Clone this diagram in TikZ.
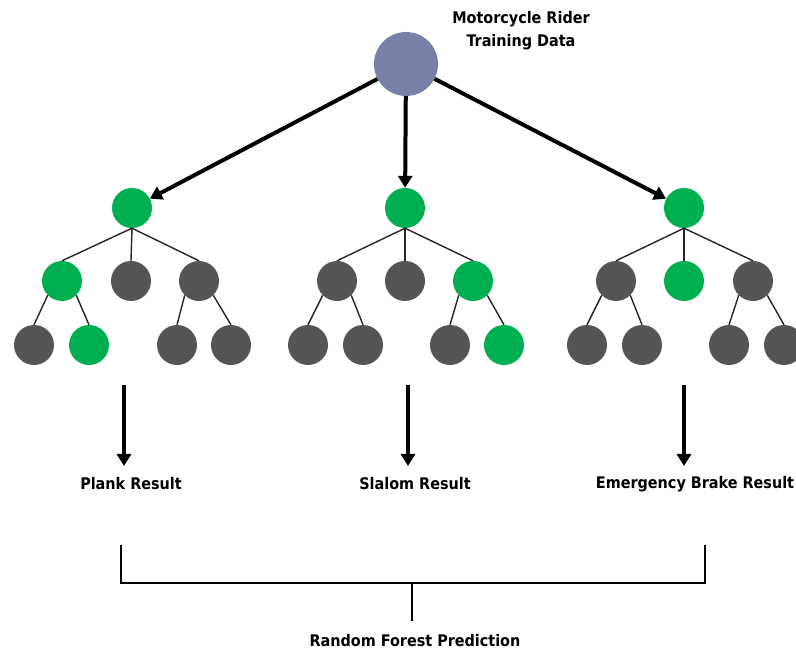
\documentclass[tikz,border=0pt]{standalone}
\usepackage{fontspec}
\setmainfont{DejaVu Sans Condensed}
\usetikzlibrary{arrows.meta}
\definecolor{rootblue}{HTML}{7880A8}
\definecolor{leafgreen}{HTML}{00B050}
\definecolor{leafgray}{HTML}{555555}
\tikzset{
  gnode/.style={circle,fill=leafgreen,minimum size=40pt,inner sep=0pt},
  dnode/.style={circle,fill=leafgray,minimum size=40pt,inner sep=0pt},
  tedge/.style={line width=1.4pt,draw=black!85},
  bigarrow/.style={line width=4pt,-{Triangle[length=12pt,width=14pt]}},
  lbl/.style={font=\bfseries\fontsize{16}{19}\selectfont,inner sep=0pt},
  bracketline/.style={line width=2.5pt}
}
\begin{document}
\begin{tikzpicture}[x=1pt,y=-1pt]
\clip (0,0) rectangle (796,652);
\fill[white] (0,0) rectangle (796,652);
% root
\node[circle,fill=rootblue,minimum size=64pt,inner sep=0pt] (root) at (406,64) {};
\node[lbl,align=center] (title) at (521,31) {Motorcycle Rider\\[4pt]Training Data};
% tree 1
\node[gnode] (a) at (132,208) {};
\node[gnode] (a1) at (62,281) {};
\node[dnode] (a2) at (131,281) {};
\node[dnode] (a3) at (199,281) {};
\node[dnode] (a11) at (34,345) {};
\node[gnode] (a12) at (89,345) {};
\node[dnode] (a31) at (177,345) {};
\node[dnode] (a32) at (231,345) {};
% tree 2
\node[gnode] (b) at (405,208) {};
\node[dnode] (b1) at (337,281) {};
\node[dnode] (b2) at (405,281) {};
\node[gnode] (b3) at (473,281) {};
\node[dnode] (b11) at (308,345) {};
\node[dnode] (b12) at (363,345) {};
\node[dnode] (b31) at (450,345) {};
\node[gnode] (b32) at (504,345) {};
% tree 3
\node[gnode] (c) at (684,208) {};
\node[dnode] (c1) at (616,281) {};
\node[gnode] (c2) at (684,281) {};
\node[dnode] (c3) at (753,281) {};
\node[dnode] (c11) at (587,345) {};
\node[dnode] (c12) at (642,345) {};
\node[dnode] (c31) at (729,345) {};
\node[dnode] (c32) at (784,345) {};
% tree edges
\foreach \t in {a,b,c}{
  \draw[tedge] (\t.south) -- (\t1.north);
  \draw[tedge] (\t.south) -- (\t2.north);
  \draw[tedge] (\t.south) -- (\t3.north);
  \draw[tedge] (\t1.south west) -- (\t11.north);
  \draw[tedge] (\t1.south east) -- (\t12.north);
  \draw[tedge] (\t3.south west) -- (\t31.north);
  \draw[tedge] (\t3.south east) -- (\t32.north);
}
% arrows from root
\draw[bigarrow] (root) -- (a);
\draw[bigarrow] (root) -- (b);
\draw[bigarrow] (root) -- (c);
% result labels
\node[lbl] (r1) at (131,484) {Plank Result};
\node[lbl] (r2) at (415,484) {Slalom Result};
\node[lbl] (r3) at (695,484) {Emergency Brake Result};
\coordinate (d1t) at (124,385); \coordinate (d1b) at (124,466);
\coordinate (d2t) at (408,385); \coordinate (d2b) at (408,466);
\coordinate (d3t) at (684,385); \coordinate (d3b) at (684,466);
\draw[bigarrow] (d1t) -- (d1b);
\draw[bigarrow] (d2t) -- (d2b);
\draw[bigarrow] (d3t) -- (d3b);
% bracket
\coordinate (bl) at (121,545); \coordinate (blc) at (121,583);
\coordinate (br) at (705,545); \coordinate (brc) at (705,583);
\coordinate (sm) at (412,583); \coordinate (sb) at (412,621);
\draw[bracketline] (bl) -- (blc) -- (brc) -- (br);
\draw[bracketline] (sm) -- (sb);
\node[lbl] (pred) at (415,641) {Random Forest Prediction};
\end{tikzpicture}
\end{document}
